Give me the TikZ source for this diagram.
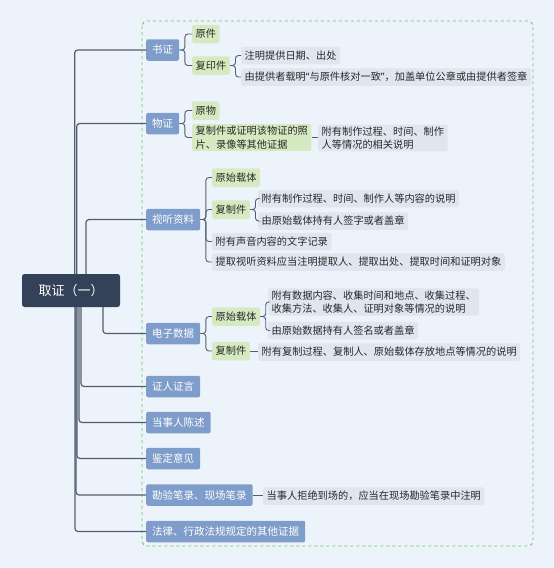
\documentclass[tikz,border=0pt]{standalone}
\usepackage{fontspec}
\newfontfamily\cjk{Noto Sans CJK SC}
\newfontfamily\latinf{Noto Sans}
\definecolor{bgc}{RGB}{237,243,250}
\definecolor{rootc}{RGB}{52,66,89}
\definecolor{bluec}{RGB}{126,157,202}
\definecolor{greenc}{RGB}{214,234,193}
\definecolor{grayc}{RGB}{224,230,239}
\definecolor{linec}{RGB}{82,94,112}
\definecolor{dashc}{RGB}{108,192,104}
\definecolor{txtc}{RGB}{40,40,40}
\tikzset{
  rootbox/.style={fill=rootc, text=white, rounded corners=2.5pt, font=\cjk\fontsize{13}{15}\selectfont, minimum width=98pt, minimum height=33pt, inner sep=0pt},
  lone/.style={fill=bluec, text=white, rounded corners=2pt, font=\cjk\fontsize{10.5}{12}\selectfont, inner xsep=6pt, inner ysep=0pt, minimum height=21.5pt, anchor=west},
  ltwo/.style={fill=greenc, text=txtc, rounded corners=2pt, font=\cjk\fontsize{10.2}{13.5}\selectfont, inner xsep=3.5pt, inner ysep=2pt, minimum height=18.5pt, anchor=west, align=left},
  leaf/.style={fill=grayc, text=txtc, rounded corners=2pt, font=\cjk\fontsize{10.2}{13.5}\selectfont, inner xsep=3.5pt, inner ysep=2pt, minimum height=17.5pt, anchor=west, align=left},
  trunk/.style={draw=linec, line width=1.2pt, rounded corners=3pt},
  conn/.style={draw=linec, line width=0.9pt, rounded corners=3pt},
}
\newcommand\brk[2]{\draw[conn] (#1.east) -- ++(5.5,0) |- (#2.west);}
\newcommand\strt[2]{\draw[conn] (#1.east) -- (#1.east -| #2.west);}
\begin{document}
\begin{tikzpicture}[x=1pt,y=-1pt]
\fill[bgc] (0,0) rectangle (554,568);
\useasboundingbox (0,0) rectangle (554,568);
\draw[dashc, dashed, line width=0.9pt, rounded corners=5pt] (142,21) rectangle (533,546);

% root
\node[rootbox] (root) at (71,290.5) {取证（一）};

% level one
\node[lone] (sz) at (146,50) {书证};
\node[lone] (wz) at (146,123.5) {物证};
\node[lone] (st) at (146,219.5) {视听资料};
\node[lone] (dz) at (146,333.5) {电子数据};
\node[lone] (zr) at (146,386.5) {证人证言};
\node[lone] (ds) at (146,422.5) {当事人陈述};
\node[lone] (jd) at (146,458.5) {鉴定意见};
\node[lone] (ky) at (146,495) {勘验笔录、现场笔录};
\node[lone] (fl) at (146,531.5) {法律、行政法规规定的其他证据};

% 书证
\node[ltwo] (yj) at (192,34) {原件};
\node[ltwo] (fy) at (192,65.5) {复印件};
\node[leaf] (zm) at (241,55.5) {注明提供日期、出处};
\node[leaf] (ytg) at (241,77) {由提供者载明{\latinf“}与原件核对一致{\latinf”}，加盖单位公章或由提供者签章};

% 物证
\node[ltwo] (yw) at (192,110.5) {原物};
\node[ltwo] (fz) at (192,137.5) {复制件或证明该物证的照\\片、录像等其他证据};
\node[leaf] (fzl) at (318,138) {附有制作过程、时间、制作\\人等情况的相关说明};

% 视听资料
\node[ltwo] (st1) at (212,177.5) {原始载体};
\node[ltwo] (st2) at (212,209.5) {复制件};
\node[leaf] (st2a) at (258,198.5) {附有制作过程、时间、制作人等内容的说明};
\node[leaf] (st2b) at (258,221) {由原始载体持有人签字或者盖章};
\node[leaf] (st3) at (212,241.5) {附有声音内容的文字记录};
\node[leaf] (st4) at (212,262) {提取视听资料应当注明提取人、提取出处、提取时间和证明对象};

% 电子数据
\node[ltwo] (dz1) at (212,316.5) {原始载体};
\node[leaf] (dz1a) at (268,302) {附有数据内容、收集时间和地点、收集过程、\\收集方法、收集人、证明对象等情况的说明};
\node[leaf] (dz1b) at (268,330.5) {由原始数据持有人签名或者盖章};
\node[ltwo] (dz2) at (212,351) {复制件};
\node[leaf] (dz2a) at (258,352) {附有复制过程、复制人、原始载体存放地点等情况的说明};

% 勘验
\node[leaf] (kya) at (263,496) {当事人拒绝到场的，应当在现场勘验笔录中注明};

% trunk connectors
\draw[trunk] ([xshift=3.7pt]root.north) |- (sz.west);
\draw[trunk] ([xshift=5.7pt]root.north) |- (wz.west);
\draw[trunk] ([xshift=15pt]root.north) |- (st.west);
\draw[trunk] ([xshift=32pt]root.south) |- (dz.west);
\draw[trunk] ([xshift=10pt]root.south) |- (zr.west);
\draw[trunk] ([xshift=8pt]root.south) |- (ds.west);
\draw[trunk] ([xshift=6pt]root.south) |- (jd.west);
\draw[trunk] ([xshift=5pt]root.south) |- (ky.west);
\draw[trunk] ([xshift=4pt]root.south) |- (fl.west);

% branches
\brk{sz}{yj}\brk{sz}{fy}
\brk{fy}{zm}\brk{fy}{ytg}
\brk{wz}{yw}\brk{wz}{fz}
\strt{fz}{fzl}
\brk{st}{st1}\brk{st}{st2}\brk{st}{st3}\brk{st}{st4}
\brk{st2}{st2a}\brk{st2}{st2b}
\brk{dz}{dz1}\brk{dz}{dz2}
\brk{dz1}{dz1a}\brk{dz1}{dz1b}
\strt{dz2}{dz2a}
\strt{ky}{kya}
\end{tikzpicture}
\end{document}
